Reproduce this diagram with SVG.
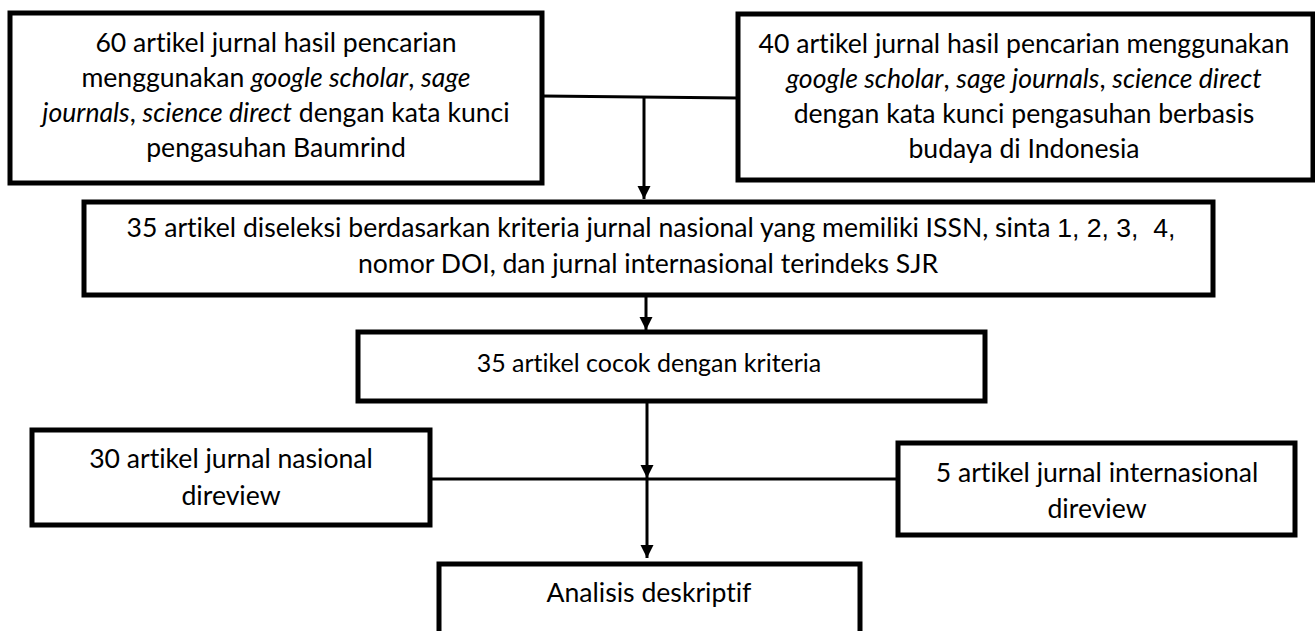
<svg xmlns="http://www.w3.org/2000/svg" width="1315" height="631" viewBox="0 0 1315 631">
<style>
.box{fill:#fff;stroke:#000;stroke-width:5}
.t{font-family:Lato,"Liberation Sans",sans-serif;font-size:26.6px;fill:#000;text-anchor:middle;font-variant-ligatures:none;font-feature-settings:"liga" 0}
.s{font-size:25px}
.i{font-style:italic}
.n{font-family:"Liberation Sans",Arial,sans-serif}
.c{fill:none;stroke:#000;stroke-width:3}
</style>
<defs>
<marker id="ah" viewBox="0 0 10 10" refX="10" refY="5" markerWidth="4.5" markerHeight="5" markerUnits="strokeWidth" orient="auto">
<path d="M0,0 L10,5 L0,10 z" fill="#000"/>
</marker>
</defs>
<rect width="1315" height="631" fill="#fff"/>
<g id="connectors">
<line class="c" x1="542" y1="96" x2="738" y2="98"/>
<line class="c" x1="644" y1="97" x2="644" y2="199" marker-end="url(#ah)"/>
<line class="c" x1="646" y1="295" x2="646" y2="330" marker-end="url(#ah)"/>
<line class="c" x1="430" y1="479" x2="898" y2="479"/>
<line class="c" x1="647" y1="402" x2="647" y2="478" marker-end="url(#ah)"/>
<line class="c" x1="647" y1="479" x2="647" y2="558" marker-end="url(#ah)"/>
</g>
<g id="n1">
<rect class="box" x="10" y="13" width="532" height="170"/>
<text class="t" x="276" y="52">60 artikel jurnal hasil pencarian</text>
<text class="t" x="276" y="87">menggunakan <tspan class="i">google scholar</tspan>, <tspan class="i">sage</tspan></text>
<text class="t" x="276" y="122"><tspan class="i">journals</tspan>, <tspan class="i">science direct</tspan> dengan kata kunci</text>
<text class="t" x="276" y="157">pengasuhan Baumrind</text>
</g>
<g id="n2">
<rect class="box" x="738" y="14" width="575" height="166"/>
<text class="t" x="1024" y="53">40 artikel jurnal hasil pencarian menggunakan</text>
<text class="t" x="1024" y="88"><tspan class="i">google scholar</tspan>, <tspan class="i">sage journals</tspan>, <tspan class="i">science direct</tspan></text>
<text class="t" x="1024" y="123">dengan kata kunci pengasuhan berbasis</text>
<text class="t" x="1024" y="158">budaya di Indonesia</text>
</g>
<g id="n3">
<rect class="box" x="84" y="202" width="1129" height="93"/>
<text class="t" x="651" y="237">35 artikel diseleksi berdasarkan kriteria jurnal nasional yang memiliki ISSN, sinta <tspan class="n">1, 2, 3,&#160; 4,</tspan></text>
<text class="t" x="648" y="273">nomor DOI, dan jurnal internasional terindeks SJR</text>
</g>
<g id="n4">
<rect class="box" x="358" y="332" width="627" height="69"/>
<text class="t s" x="649" y="372">35 artikel cocok dengan kriteria</text>
</g>
<g id="n5">
<rect class="box" x="32" y="430" width="398" height="95"/>
<text class="t" x="231" y="468">30 artikel jurnal nasional</text>
<text class="t" x="231" y="505">direview</text>
</g>
<g id="n6">
<rect class="box" x="898" y="443" width="397" height="92"/>
<text class="t" x="1097" y="482">5 artikel jurnal internasional</text>
<text class="t" x="1097" y="518">direview</text>
</g>
<g id="n7">
<rect class="box" x="439" y="564" width="421" height="80"/>
<text class="t" x="649" y="602">Analisis deskriptif</text>
</g>
</svg>
